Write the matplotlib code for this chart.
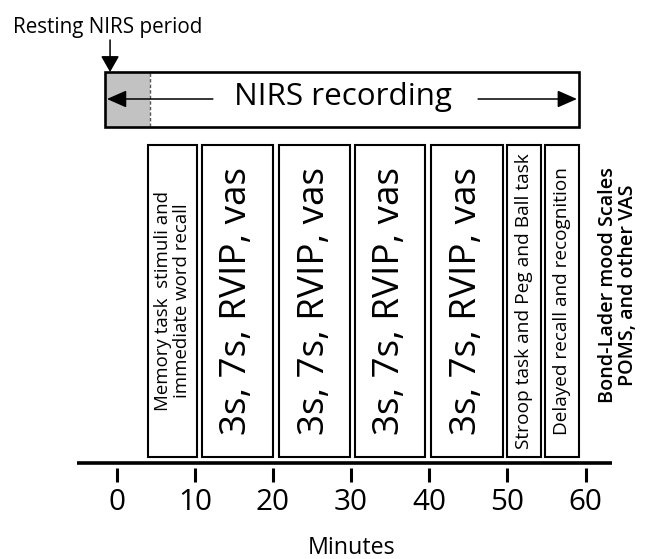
import matplotlib
matplotlib.use("Agg")
import matplotlib.pyplot as plt
from matplotlib.patches import Rectangle

plt.rcParams['font.family'] = ['Open Sans', 'DejaVu Sans']

# ---------------- data (minutes) ----------------
tick_minutes = [0, 10, 20, 30, 40, 50, 60]
tick_labels = ["0", "10", "20", "30", "40", "50", "60"]

task_labels = [
    "Memory task  stimuli and\nimmediate word recall",
    "3s, 7s, RVIP, vas",
    "3s, 7s, RVIP, vas",
    "3s, 7s, RVIP, vas",
    "3s, 7s, RVIP, vas",
    "Stroop task and Peg and Ball task",
    "Delayed recall and recognition",
]
task_start = [4.0, 10.9, 20.8, 30.5, 40.2, 50.0, 54.8]
task_end = [10.3, 20.0, 29.9, 39.5, 49.4, 54.3, 59.2]

recording_start = -1.5
recording_end = 59.2
resting_end = 4.3

axis_start = -5.1
axis_end = 63.4

rest_label = "Resting NIRS period"
recording_label = "NIRS recording"
mood_label = "Bond-Lader mood Scales\nPOMS, and other VAS"
x_label = "Minutes"

# ---------------- figure ----------------
W, H = 648, 559
fig = plt.figure(figsize=(W / 100, H / 100), dpi=100)
ax = fig.add_axes([0, 0, 1, 1])
ax.axis("off")
PX0, PXM = 116.7, 7.814   # pixel of minute 0, pixels per minute
ax.set_xlim(-PX0 / PXM, (W - PX0) / PXM)
ax.set_ylim(H, 0)

renderer = fig.canvas.get_renderer()


def fit(t, target_px, along="x"):
    bb = t.get_window_extent(renderer)
    cur = bb.width if along == "x" else bb.height
    t.set_fontsize(t.get_fontsize() * target_px / cur)


# top recording box
top_y, top_h = 72, 55
ax.add_patch(Rectangle((recording_start, top_y), resting_end - recording_start, top_h,
                       facecolor="#c2c2c2", edgecolor="none", zorder=1))
ax.plot([resting_end, resting_end], [top_y + 1, top_y + top_h - 1], color="#555555",
        lw=1.0, ls=(0, (2.5, 1.5)), zorder=2)
ax.add_patch(Rectangle((recording_start, top_y), recording_end - recording_start, top_h,
                       fill=False, edgecolor="black", lw=1.9, zorder=3))

arrow_kw = dict(arrowstyle="-|>,head_length=0.75,head_width=0.33", mutation_scale=16,
                color="black", lw=1.1, shrinkA=0, shrinkB=0)
ax.annotate("", xy=(recording_start + 0.25, 99), xytext=(12.3, 99), arrowprops=arrow_kw, zorder=4)
ax.annotate("", xy=(recording_end - 0.3, 99), xytext=(46.25, 99), arrowprops=arrow_kw, zorder=4)

t = ax.text(29.0, 105, recording_label, ha="center", va="baseline", fontsize=20, zorder=5)
fit(t, 217)

# resting arrow + label
ax.annotate("", xy=(recording_start + 0.65, top_y), xytext=(recording_start + 0.65, 40),
            arrowprops=dict(arrowstyle="-|>,head_length=0.7,head_width=0.4", mutation_scale=14,
                            color="black", lw=1.1, shrinkA=0, shrinkB=0))
t = ax.text((13 - PX0) / PXM, 33, rest_label, ha="left", va="baseline", fontsize=15)
fit(t, 189)

# task boxes
box_y, box_h = 145, 312
targets = [220, 269, 269, 269, 269, 297, 270]
for s, e, lab, tg in zip(task_start, task_end, task_labels, targets):
    ax.add_patch(Rectangle((s, box_y), e - s, box_h, fill=False, edgecolor="black", lw=1.5))
    t = ax.text((s + e) / 2, box_y + box_h / 2, lab, rotation=90, ha="center", va="center",
                multialignment="center", fontsize=14, linespacing=1.05)
    fit(t, tg, along="y")

# mood scales label
t = ax.text(64.1, 285, mood_label, rotation=90, ha="center", va="center",
            multialignment="center", fontsize=15, linespacing=1.0, fontweight="semibold")
fit(t, 236, along="y")

# time axis
ax.plot([axis_start, axis_end], [463, 463], color="black", lw=2.6, solid_capstyle="butt")
for m, lab in zip(tick_minutes, tick_labels):
    ax.plot([m, m], [468, 482], color="black", lw=2.2, solid_capstyle="butt")
tl = []
for m, lab in zip(tick_minutes, tick_labels):
    tl.append(ax.text(m, 510, lab, ha="center", va="baseline", fontsize=21))
bb = tl[5].get_window_extent(renderer)
fs = tl[5].get_fontsize() * 34 / bb.width
for t in tl:
    t.set_fontsize(fs)

t = ax.text(30, 554, x_label, ha="center", va="baseline", fontsize=16)
fit(t, 88)

fig.savefig("out.png", dpi=100)
